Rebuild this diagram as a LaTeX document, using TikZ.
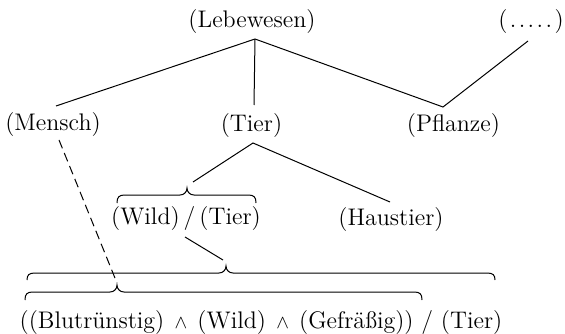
\documentclass[tikz,border=0pt]{standalone}
\usepackage{fix-cm}
\usepackage{fontspec}
\setmainfont{lmroman12-regular.otf}
\newcommand\hbrace[5]{% left x, right x, line y, tip x, end drop
  \draw[bracestyle] (#1,#3+#5) .. controls (#1,#3+2) and (#1+2,#3) .. (#1+8,#3)
    -- (#4-7,#3) .. controls (#4-3,#3) and (#4,#3-3) .. (#4,#3-7)
    .. controls (#4,#3-3) and (#4+3,#3) .. (#4+7,#3)
    -- (#2-8,#3) .. controls (#2-2,#3) and (#2,#3+2) .. (#2,#3+#5);}
\newcommand\smallwedge{\kern.1em{\fontsize{19}{20}\selectfont$\wedge$}\kern.1em}
\begin{document}
\begin{tikzpicture}[x=1pt,y=-1pt,
  lbl/.style={inner sep=0pt, font=\fontsize{24}{28}\selectfont},
  edge/.style={line width=1pt},
  bracestyle/.style={line width=1pt}]
\useasboundingbox (0,0) rectangle (565,334);
% nodes
\node[lbl] (leb) at (252,21.5) {(Lebewesen)};
\node[lbl] (dots) at (531,21.5) {(\kern.1em.\kern.1em.\kern.1em.\kern.1em.\kern.1em.\kern.1em)};
\node[lbl] (mensch) at (53,124.5) {(Mensch)};
\node[lbl] (tier) at (251.5,126) {(Tier)};
\node[lbl] (pflanze) at (453.5,126) {(Pflanze)};
\node[lbl] (wt) at (186,218.5) {(Wild)\,/\,(Tier)};
\node[lbl] (haus) at (391,220) {(Haustier)};
\node[lbl] (bottom) at (261,322.5) {((Blutrünstig) \smallwedge{} (Wild) \smallwedge{} (Gefräßig)) / (Tier)};
% connector end points
\coordinate (lebv) at (255,39);
\coordinate (menschtop) at (56,106);
\coordinate (tiertop) at (254,105);
\coordinate (pflv) at (443,107);
\coordinate (dotsend) at (528,41);
\coordinate (tierv) at (253,143);
\coordinate (wtend) at (193,182);
\coordinate (hausend) at (390,202);
\coordinate (slashend) at (185,237);
\coordinate (bigtipend) at (223,260);
\coordinate (dashstart) at (59,140);
\coordinate (lowtip) at (117,283);
% connectors
\draw[edge] (lebv) -- (menschtop);
\draw[edge] (lebv) -- (tiertop);
\draw[edge] (lebv) -- (pflv) -- (dotsend);
\draw[edge] (wtend) -- (tierv) -- (hausend);
\draw[edge] (slashend) -- (bigtipend);
\draw[edge, dash pattern=on 9pt off 5pt] (dashstart) -- (lowtip);
% braces
\hbrace{117}{256}{195}{187}{8}
\hbrace{27}{495}{273}{226}{7}
\hbrace{25}{422}{292}{117}{8}
\end{tikzpicture}
\end{document}
